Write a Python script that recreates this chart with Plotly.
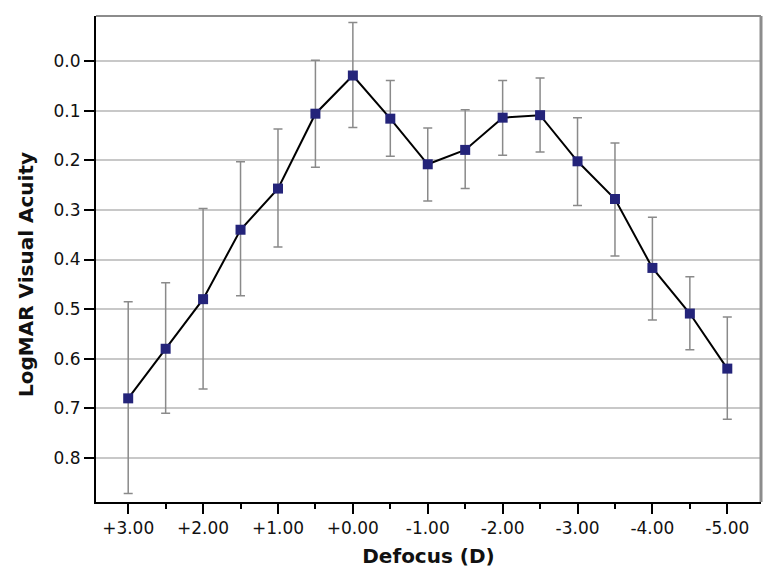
import plotly.graph_objects as go

# defocus in dioptres (plotted on a reversed axis, +3 on the left)
defocus = [3.0, 2.5, 2.0, 1.5, 1.0, 0.5, 0.0, -0.5, -1.0, -1.5, -2.0, -2.5, -3.0, -3.5, -4.0, -4.5, -5.0]
logmar = [0.68, 0.58, 0.48, 0.34, 0.257, 0.106, 0.029, 0.116, 0.208, 0.179, 0.114, 0.109, 0.202, 0.278, 0.417, 0.509, 0.62]
err_top = [0.485, 0.447, 0.297, 0.203, 0.137, -0.002, -0.078, 0.039, 0.135, 0.098, 0.039, 0.034, 0.114, 0.165, 0.315, 0.435, 0.516]
err_bottom = [0.872, 0.710, 0.661, 0.473, 0.375, 0.214, 0.134, 0.192, 0.282, 0.257, 0.190, 0.183, 0.291, 0.393, 0.522, 0.582, 0.722]

x_tickvals = [3, 2, 1, 0, -1, -2, -3, -4, -5]
x_ticktext = ["+3.00", "+2.00", "+1.00", "+0.00", "-1.00", "-2.00", "-3.00", "-4.00", "-5.00"]
x_minor = [2.5, 1.5, 0.5, -0.5, -1.5, -2.5, -3.5, -4.5]
y_tickvals = [0.0, 0.1, 0.2, 0.3, 0.4, 0.5, 0.6, 0.7, 0.8]

FONT = "DejaVu Sans, Liberation Sans, Arial"

# error bars go up (towards smaller logMAR) and down
err_plus = [b - v for v, b in zip(logmar, err_bottom)]
err_minus = [v - t for v, t in zip(logmar, err_top)]

# the page body has an 8px margin, so the figure is shrunk to fit the window
W, H = 772, 577
L, R, T, B = 88, 19, 8, 83
PW, PH = W - L - R, H - T - B

fig = go.Figure()
fig.add_trace(go.Scatter(
    x=defocus, y=logmar,
    mode="lines+markers",
    line=dict(color="black", width=2),
    marker=dict(symbol="square", size=10, color="#24247a",
                line=dict(color="#24247a", width=0)),
    error_y=dict(type="data", symmetric=False, array=err_plus, arrayminus=err_minus,
                 color="#8a8a8a", thickness=1.5, width=4.5),
    showlegend=False,
))

fig.update_xaxes(
    range=[3.43, -5.45],
    tickmode="array", tickvals=x_tickvals, ticktext=x_ticktext,
    ticks="outside", ticklen=10, tickwidth=1.5, tickcolor="black",
    minor=dict(tickmode="array", tickvals=x_minor, ticks="outside", ticklen=5,
               tickwidth=1.5, tickcolor="black", showgrid=False),
    showgrid=False, zeroline=False,
    showline=True, linecolor="black", linewidth=2,
    tickfont=dict(family=FONT, size=17, color="#111"),
    title=dict(text="<b>Defocus (D)</b>", font=dict(family=FONT, size=20, color="#111"),
               standoff=12),
)
fig.update_yaxes(
    range=[0.889, -0.091],
    tickmode="array", tickvals=y_tickvals, tickformat=".1f",
    ticks="outside", ticklen=10, tickwidth=1.5, tickcolor="black",
    showgrid=True, gridcolor="#c8c8c8", gridwidth=1.5,
    zeroline=False,
    showline=True, linecolor="black", linewidth=2,
    tickfont=dict(family=FONT, size=17, color="#111"),
)

# grey top/right frame of the plot area
fig.add_shape(type="line", xref="paper", yref="paper", x0=0, x1=1, y0=1, y1=1,
              line=dict(color="#8c8c8c", width=2))
fig.add_shape(type="line", xref="paper", yref="paper", x0=1, x1=1, y0=0, y1=1,
              line=dict(color="#8c8c8c", width=3))

fig.add_annotation(text="<b>LogMAR Visual Acuity</b>", textangle=-90,
                   xref="paper", yref="paper", x=(18 - L) / PW, y=(H - B - 267) / PH,
                   xanchor="center", yanchor="middle",
                   showarrow=False, font=dict(family=FONT, size=20, color="#111"))

fig.update_layout(
    width=W, height=H,
    margin=dict(l=L, r=R, t=T, b=B),
    paper_bgcolor="white", plot_bgcolor="white",
)

fig.write_html("out.html")
